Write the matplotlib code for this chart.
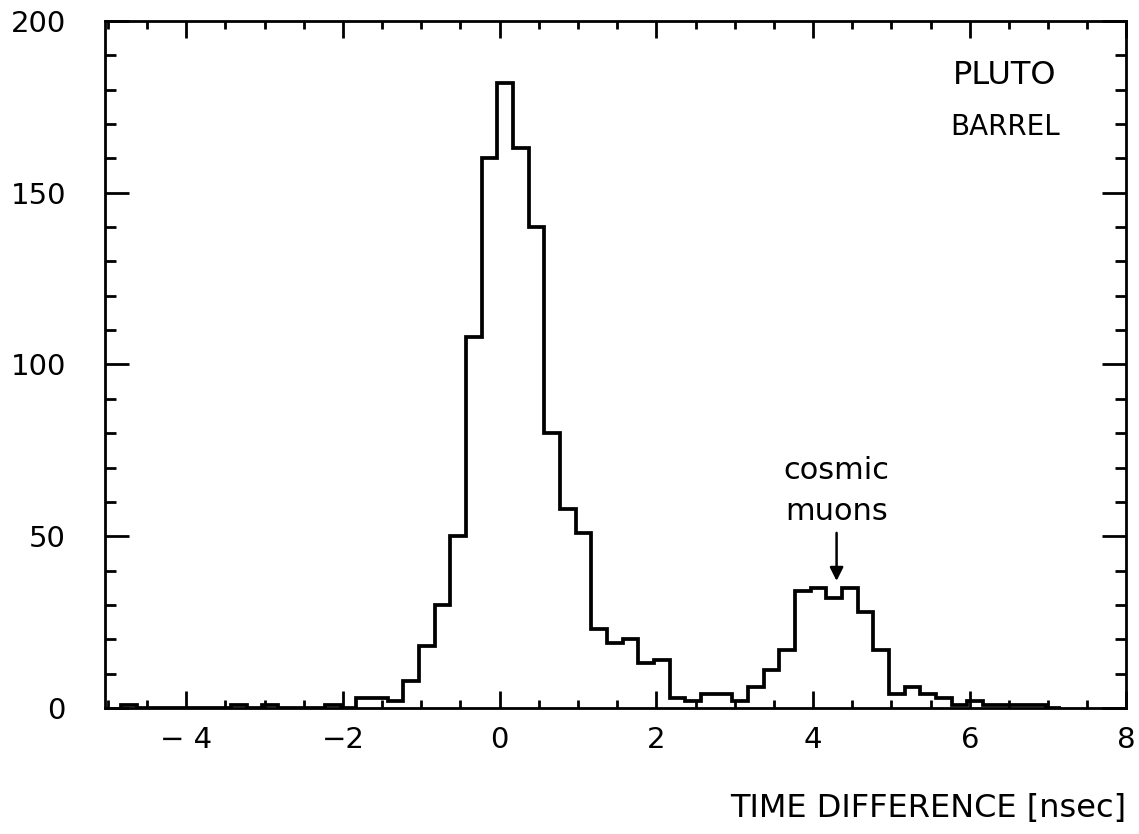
import matplotlib.pyplot as plt
import numpy as np
from matplotlib.ticker import MultipleLocator

# histogram of the time difference, bins of 0.2 ns
bin_lo = -4.83
bin_w = 0.2
counts = [1, 0, 0, 0, 0, 0, 0, 1, 0, 1,
          0, 0, 0, 1, 0, 3, 3, 2, 8, 18,
          30, 50, 108, 160, 182, 163, 140, 80, 58, 51,
          23, 19, 20, 13, 14, 3, 2, 4, 4, 2,
          6, 11, 17, 34, 35, 32, 35, 28, 17, 4,
          6, 4, 3, 1, 2, 1, 1, 1, 1, 0]

xticks = [-4, -2, 0, 2, 4, 6, 8]
xticklabels = ['\u2212 4', '\u22122', '0', '2', '4', '6', '8']
yticks = [0, 50, 100, 150, 200]

edges = bin_lo + bin_w * np.arange(len(counts) + 1)

plt.rcParams['font.family'] = ['DejaVu Sans']

fig = plt.figure(figsize=(11.39, 8.34), dpi=100)
ax = fig.add_axes([0.092, 0.151, 0.897, 0.824])

ax.stairs(counts, edges, color='black', linewidth=2.7)

ax.set_xlim(-5.04, 8.0)
ax.set_ylim(0, 200)
ax.set_xticks(xticks)
ax.set_xticklabels(xticklabels)
ax.set_yticks(yticks)
ax.xaxis.set_minor_locator(MultipleLocator(0.5))
ax.yaxis.set_minor_locator(MultipleLocator(10))

ax.tick_params(axis='both', which='both', direction='in', top=True, right=True,
               width=2.0, labelsize=21)
ax.tick_params(axis='x', which='major', length=12, pad=13)
ax.tick_params(axis='x', which='minor', length=6)
ax.tick_params(axis='y', which='major', length=17, pad=28)
ax.tick_params(axis='y', which='minor', length=8)
for s in ax.spines.values():
    s.set_linewidth(2.0)

ax.set_xlabel('TIME DIFFERENCE [nsec]', fontsize=23, loc='right', labelpad=28)

ax.text(6.45, 184, 'PLUTO', fontsize=23, ha='center', va='center')
ax.text(6.45, 169, 'BARREL', fontsize=20, ha='center', va='center')

ax.annotate('cosmic\nmuons', xy=(4.3, 37), xytext=(4.3, 53),
            ha='center', va='bottom', fontsize=22, linespacing=1.5,
            arrowprops=dict(arrowstyle='-|>', color='black', lw=1.8,
                            mutation_scale=20, shrinkA=3, shrinkB=0))

plt.savefig('out.png', dpi=100)
